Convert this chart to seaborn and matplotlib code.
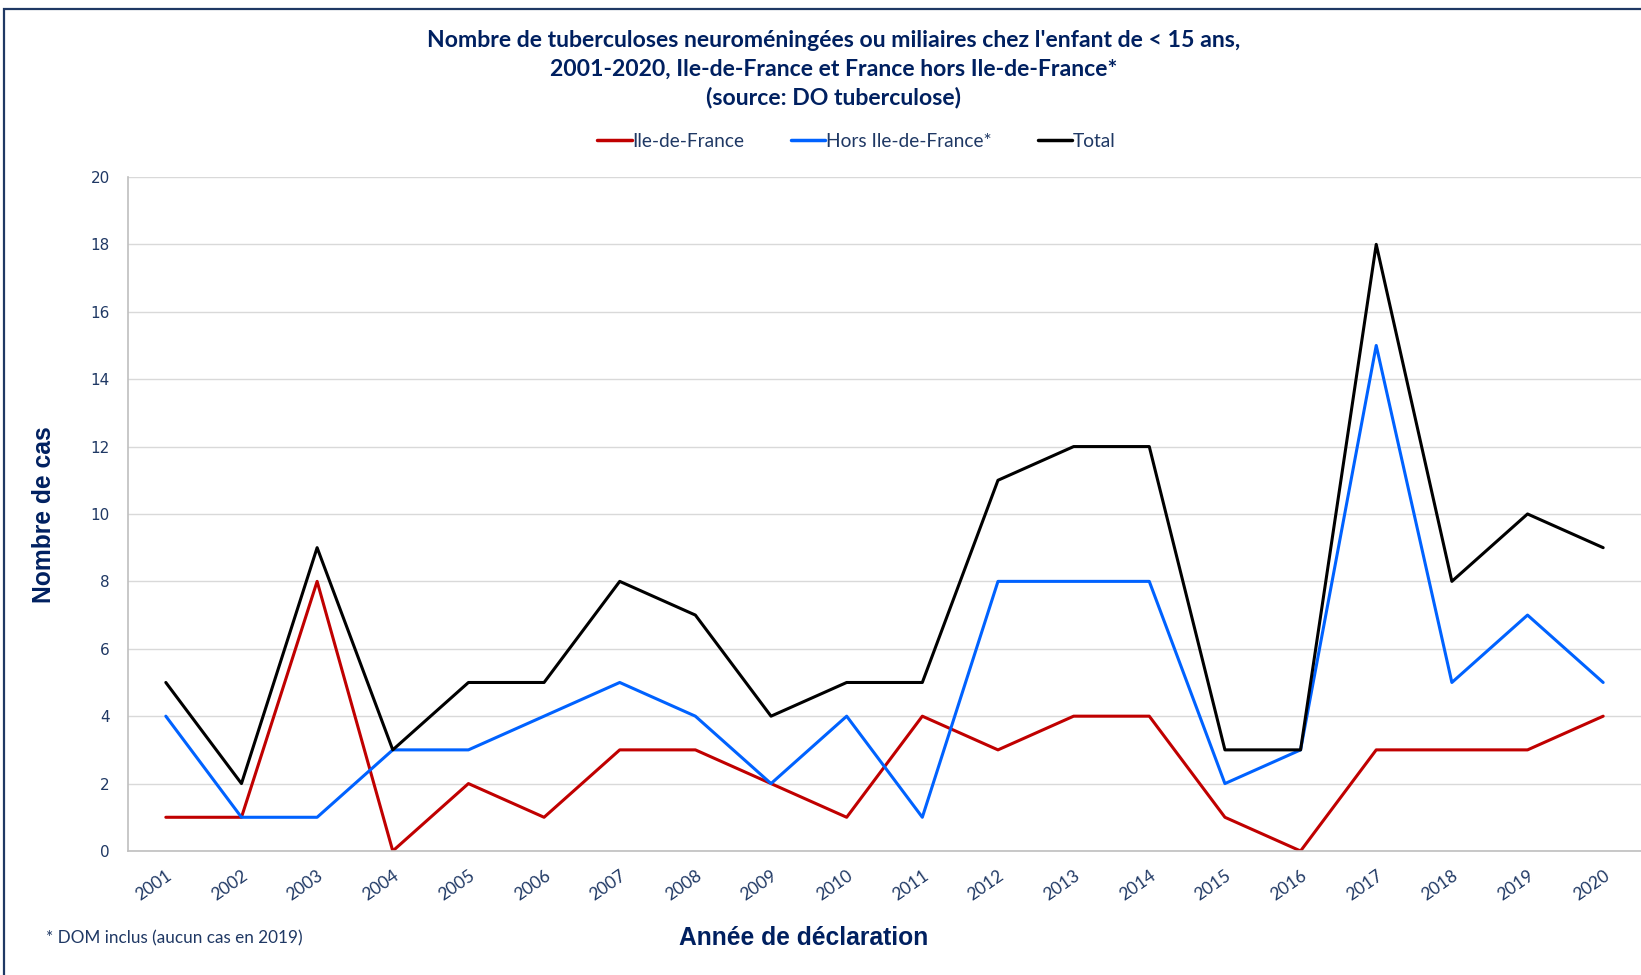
import numpy as np
import pandas as pd
import seaborn as sns
import matplotlib.pyplot as plt
from matplotlib.patches import Rectangle

# Data
years = [str(y) for y in range(2001, 2021)]
idf = [1, 1, 8, 0, 2, 1, 3, 3, 2, 1, 4, 3, 4, 4, 1, 0, 3, 3, 3, 4]
hors_idf = [4, 1, 1, 3, 3, 4, 5, 4, 2, 4, 1, 8, 8, 8, 2, 3, 15, 5, 7, 5]
total = [5, 2, 9, 3, 5, 5, 8, 7, 4, 5, 5, 11, 12, 12, 3, 3, 18, 8, 10, 9]

series_names = ["Ile-de-France", "Hors Ile-de-France*", "Total"]
series_colors = ["#C00000", "#0062FF", "#000000"]

df = pd.DataFrame({
    "annee": years * 3,
    "cas": idf + hors_idf + total,
    "serie": [series_names[0]] * 20 + [series_names[1]] * 20 + [series_names[2]] * 20,
})

navy = "#002060"
tick_navy = "#1F3864"

sns.set_style("white")
plt.rcParams['font.family'] = ['Lato', 'DejaVu Sans']

fig = plt.figure(figsize=(16.41, 9.75), dpi=100)
ax = fig.add_axes([0.078, 0.1272, 0.922, 0.6913])

sns.lineplot(data=df, x="annee", y="cas", hue="serie", palette=series_colors,
             hue_order=series_names, linewidth=2.2, ax=ax, sort=False)

ax.set_xlim(-0.5, 19.5)
ax.set_ylim(0, 20)
ax.set_yticks(np.arange(0, 21, 2))
ax.yaxis.grid(True, color="#D9D9D9", linewidth=1)
ax.set_axisbelow(True)
for s in ["top", "right"]:
    ax.spines[s].set_visible(False)
for s in ["left", "bottom"]:
    ax.spines[s].set_color("#BFBFBF")
    ax.spines[s].set_linewidth(1.2)
ax.tick_params(axis="both", length=0)
ax.tick_params(axis="y", pad=13)
ax.tick_params(axis="x", pad=12)

for lab in ax.get_yticklabels():
    lab.set_family("DejaVu Sans")
    lab.set_fontsize(11)
    lab.set_color(tick_navy)
for lab in ax.get_xticklabels():
    lab.set_fontsize(12.5)
    lab.set_color(tick_navy)
    lab.set_rotation(35)
    lab.set_ha("right")
    lab.set_rotation_mode("anchor")

ax.set_xlabel("")
ax.set_ylabel("")

# legend on top, centred
handles, labels = ax.get_legend_handles_labels()
ax.legend_.remove()
leg = fig.legend(handles, labels, loc="center", bbox_to_anchor=(0.522, 0.855),
                 ncol=3, frameon=False, fontsize=13.8, handlelength=1.8,
                 handletextpad=0.05, columnspacing=2.4)
for t in leg.get_texts():
    t.set_color(tick_navy)
for h in leg.get_lines():
    h.set_linewidth(2.5)

fig.text(0.508, 0.929,
         "Nombre de tuberculoses neuroméningées ou miliaires chez l'enfant de < 15 ans,\n"
         "2001-2020, Ile-de-France et France hors Ile-de-France*\n"
         "(source: DO tuberculose)",
         ha="center", va="center", fontsize=16.6, fontweight="bold", color=navy,
         linespacing=1.42)

fig.text(0.027, 0.472, "Nombre de cas", rotation=90, ha="center", va="center",
         fontsize=17.7, fontweight="bold", color=navy, family="Liberation Sans")
fig.text(0.49, 0.038, "Année de déclaration", ha="center", va="center",
         fontsize=17.7, fontweight="bold", color=navy, family="Liberation Sans")
fig.text(0.028, 0.038, "* DOM inclus (aucun cas en 2019)", ha="left", va="center",
         fontsize=12.3, color=tick_navy)

# navy frame of the original figure
fig.patches.append(Rectangle((0.0022, -0.1), 1.1, 1.1 - 0.0097, transform=fig.transFigure,
                             fill=False, edgecolor="#1F3864", linewidth=1.6))

fig.savefig("out.png", dpi=100)
